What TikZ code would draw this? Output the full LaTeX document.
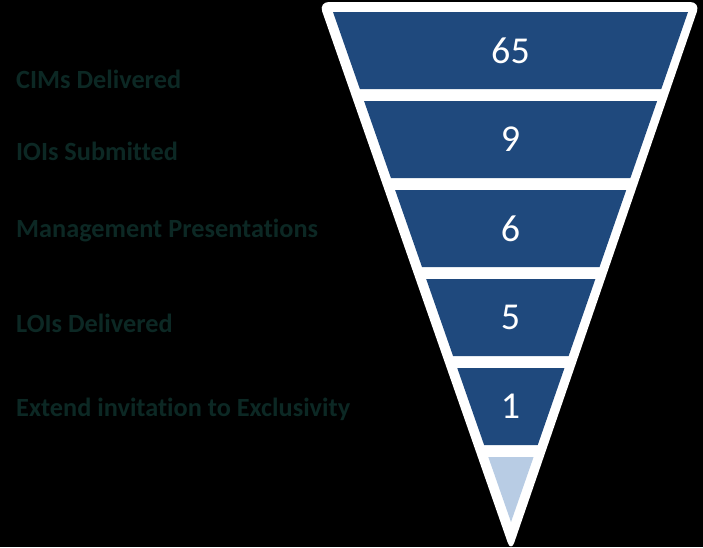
\documentclass[tikz,border=0pt]{standalone}
\usepackage{fontspec}
\setmainfont[RawFeature={-liga}]{Carlito}
\usetikzlibrary{calc}
\definecolor{funnelblue}{RGB}{31,73,125}
\definecolor{tipblue}{RGB}{184,204,228}
\definecolor{labelteal}{RGB}{12,40,36}
\tikzset{
  seg/.style={fill=funnelblue, draw=none},
  numtext/.style={text=white, font=\fontsize{38}{40}\selectfont, inner sep=0pt, anchor=center},
  labeltext/.style={text=labelteal, font=\bfseries\fontsize{26.3}{28}\selectfont, inner sep=0pt, anchor=base west}
}
\begin{document}
\begin{tikzpicture}[x=1pt,y=-1pt]
\fill[black] (0,0) rectangle (703,547);
\useasboundingbox (0,0) rectangle (703,547);
% white outline
\fill[white, rounded corners=10pt] (318.9,2) -- (700.2,2) -- (511,552) -- cycle;
% segments
\coordinate (A) at (333,12);
\coordinate (B) at (688,12);
\coordinate (C) at (511,522);
\foreach \top/\name in {12/s1,101/s2,190/s3,279/s4,368/s5}{
  \pgfmathsetmacro{\ta}{(\top-12)/510}
  \pgfmathsetmacro{\tb}{(\top+77-12)/510}
  \fill[seg] ($(A)!\ta!(C)$) -- ($(B)!\ta!(C)$) -- ($(B)!\tb!(C)$) -- ($(A)!\tb!(C)$) -- cycle;
  \coordinate (\name) at (510.5,\top+38.5);
}
\pgfmathsetmacro{\ttip}{445/510}
\fill[tipblue] ($(A)!\ttip!(C)$) -- ($(B)!\ttip!(C)$) -- (C) -- cycle;
% numbers
\node[numtext] (n1) at (s1) {65};
\node[numtext] (n2) at (s2) {9};
\node[numtext] (n3) at (s3) {6};
\node[numtext] (n4) at (s4) {5};
\node[numtext] (n5) at (s5) {1};
% labels
\node[labeltext] (l1) at (16,88) {CIMs Delivered};
\node[labeltext] (l2) at (16,160) {IOIs Submitted};
\node[labeltext] (l3) at (16,237) {Management Presentations};
\node[labeltext] (l4) at (16,332) {LOIs Delivered};
\node[labeltext] (l5) at (16,416) {Extend invitation to Exclusivity};
\end{tikzpicture}
\end{document}
